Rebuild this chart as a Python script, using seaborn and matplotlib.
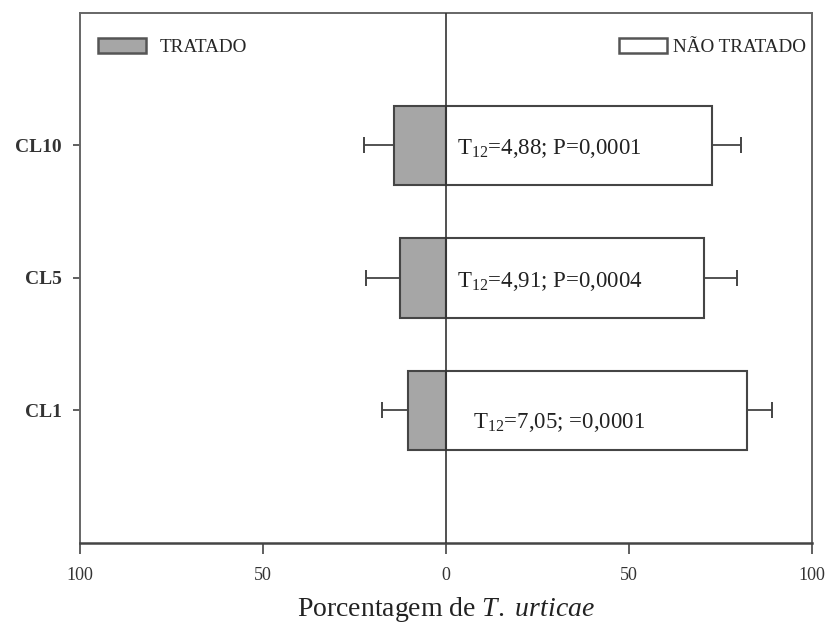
import matplotlib
matplotlib.use("Agg")
import matplotlib.pyplot as plt
import seaborn as sns
import pandas as pd
from matplotlib.patches import Patch

categories = ["CL10", "CL5", "CL1"]
tratado = [-14.2, -12.6, -10.4]
nao_tratado = [72.7, 70.5, 82.2]
err_tratado = [8.2, 9.3, 7.1]
err_nao_tratado = [7.9, 9.0, 6.8]
annotations = ["T$_{12}$=4,88; P=0,0001", "T$_{12}$=4,91; P=0,0004", "T$_{12}$=7,05; =0,0001"]
xtick_values = [-100, -50, 0, 50, 100]
xtick_labels = ["100", "50", "0", "50", "100"]
series_names = ["TRATADO", "NÃO TRATADO"]

sns.set_theme(style="white")
plt.rcParams["font.family"] = ["Liberation Serif", "DejaVu Serif"]
plt.rcParams["mathtext.fontset"] = "custom"
plt.rcParams["mathtext.rm"] = "Liberation Serif"
plt.rcParams["mathtext.it"] = "Liberation Serif:italic"

df = pd.DataFrame({
    "cat": categories * 2,
    "val": tratado + nao_tratado,
    "grupo": [series_names[0]] * 3 + [series_names[1]] * 3,
})

fig = plt.figure(figsize=(8.31, 6.37), dpi=100)
ax = fig.add_axes([0.0963, 0.1476, 0.8808, 0.832])

palette = {series_names[0]: "#a6a6a6", series_names[1]: "#ffffff"}
sns.barplot(data=df, x="val", y="cat", hue="grupo", order=categories,
            hue_order=series_names, palette=palette, dodge=False, orient="h",
            width=0.6, edgecolor="#454545", linewidth=1.5, legend=False, ax=ax,
            errorbar=None, saturation=1)

ypos = list(range(len(categories)))
ax.errorbar(tratado, ypos, xerr=[err_tratado, [0] * 3], fmt="none",
            ecolor="#444444", elinewidth=1.3, capsize=5.5, capthick=1.4, zorder=1)
ax.errorbar(nao_tratado, ypos, xerr=[[0] * 3, err_nao_tratado], fmt="none",
            ecolor="#444444", elinewidth=1.3, capsize=5.5, capthick=1.4, zorder=1)

ax.axvline(0, color="#333333", lw=1.2, zorder=5)

text_x = [3, 3, 7.4]
text_dy = [0.02, 0.03, 0.09]
for i, t in enumerate(annotations):
    ax.text(text_x[i], ypos[i] + text_dy[i], t, fontsize=16.5, va="center", ha="left",
            color="#222222", zorder=6)

ax.set_xlim(-100, 100)
ax.set_ylim(3.0, -1.0)
ax.set_xticks(xtick_values)
ax.set_xticklabels(xtick_labels, fontsize=13, color="#333333")
ax.set_yticks(ypos)
ax.set_yticklabels(categories, fontsize=14, fontweight="bold", color="#333333")
ax.tick_params(axis="x", direction="out", length=8, width=1.2, color="#444444", pad=9, bottom=True)
ax.tick_params(axis="y", direction="out", length=5, width=1.2, color="#444444", pad=8, left=True)
ax.set_xlabel("Porcentagem de $\\mathit{T.\\ urticae}$", fontsize=20, color="#222222", labelpad=8)
ax.set_ylabel("")

for s in ax.spines.values():
    s.set_color("#666666")
    s.set_linewidth(1.4)
ax.spines["bottom"].set_color("#444444")
ax.spines["bottom"].set_linewidth(1.8)

h1 = Patch(facecolor="#a6a6a6", edgecolor="#555555", linewidth=1.8)
h2 = Patch(facecolor="#ffffff", edgecolor="#555555", linewidth=1.8)
leg1 = ax.legend(handles=[h1], labels=[series_names[0]], loc="upper left",
                 frameon=False, fontsize=13.8, handlelength=2.5, handleheight=0.8,
                 handletextpad=0.75, bbox_to_anchor=(0.006, 0.978), borderaxespad=0.3)
ax.add_artist(leg1)
ax.legend(handles=[h2], labels=[series_names[1]], loc="upper right",
          frameon=False, fontsize=13.8, handlelength=2.5, handleheight=0.8,
          handletextpad=0.3, bbox_to_anchor=(1.01, 0.978), borderaxespad=0.3)

fig.savefig("out.png", dpi=100)
